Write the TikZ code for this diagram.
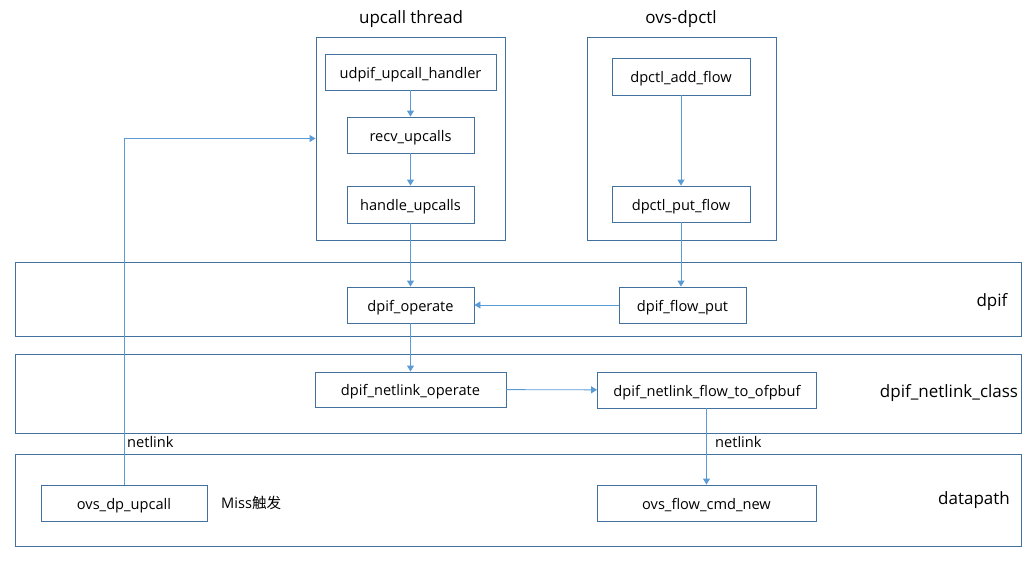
\documentclass[tikz,border=0pt]{standalone}
\usepackage{fontspec}
\setmainfont{Open Sans}
\newfontfamily\cjk{Noto Sans CJK SC}
\usetikzlibrary{arrows.meta,positioning}
\definecolor{boxblue}{HTML}{41719C}
\definecolor{lineblue}{HTML}{5B9BD5}

\begin{document}
\begin{tikzpicture}[x=1pt,y=-1pt]

\tikzset{funcbox/.style={draw=boxblue,line width=0.9pt,minimum width=127pt,minimum height=36pt,inner sep=0pt,text height=12.5pt,text depth=0pt,font=\fontsize{14.6}{16}\selectfont},
groupbox/.style={draw=boxblue,line width=0.9pt,minimum width=189pt,minimum height=203pt,inner sep=0pt},
layerbox/.style={draw=boxblue,line width=0.9pt,minimum width=1006pt,inner sep=0pt},
title/.style={font=\fontsize{17}{19}\selectfont},
layerlabel/.style={font=\fontsize{17}{19}\selectfont},
note/.style={font=\fontsize{14.6}{16}\selectfont,anchor=west,inner sep=1pt},
call/.style={draw=lineblue,line width=0.9pt,-{Triangle[width=7pt,length=6pt]}}}

\useasboundingbox (0,0) rectangle (1036,560);

% Thread and tool groups
\node[groupbox] (thread) at (410.5,138.5) {};
\node[title] (threadtitle) at (411,19) {upcall thread};
\node[groupbox] (dpctl) at (681.5,138.5) {};
\node[title] (dpctltitle) at (681,19) {ovs-dpctl};

% Layers
\node[layerbox,minimum height=74pt] (layerdpif) at (518,299) {};
\node[layerbox,minimum height=79pt] (layernl) at (518,393.5) {};
\node[layerbox,minimum height=92pt] (layerdp) at (518,500) {};
\node[layerlabel] (labeldpif) at (992,302) {dpif};
\node[layerlabel] (labelnl) at (949,393) {dpif\_netlink\_class};
\node[layerlabel] (labeldp) at (974,500) {datapath};

% upcall thread nodes
\node[funcbox,minimum width=171pt] (handler) at (410.5,72) {udpif\_upcall\_handler};
\node[funcbox] (recv) at (410.5,135) {recv\_upcalls};
\node[funcbox,minimum height=37pt] (handle) at (410.5,204.5) {handle\_upcalls};

% ovs-dpctl nodes
\node[funcbox,minimum width=138pt,minimum height=37pt] (addflow) at (681,76.5) {dpctl\_add\_flow};
\node[funcbox,minimum width=138pt] (putflow) at (681,204) {dpctl\_put\_flow};

% dpif nodes
\node[funcbox] (operate) at (410.5,305) {dpif\_operate};
\node[funcbox] (flowput) at (682.5,305) {dpif\_flow\_put};

% dpif_netlink_class nodes
\node[funcbox,minimum width=191pt,minimum height=35pt] (nloperate) at (410.5,389.5) {dpif\_netlink\_operate};
\node[funcbox,minimum width=219pt] (nlofpbuf) at (707,390) {dpif\_netlink\_flow\_to\_ofpbuf};

% datapath nodes
\node[funcbox,minimum width=166pt] (dpupcall) at (124,503) {ovs\_dp\_upcall};
\node[note] (miss) at (220,503) {Miss{\cjk 触发}};
\node[funcbox,minimum width=219pt] (cmdnew) at (706.5,503) {ovs\_flow\_cmd\_new};
\node[note] (netlinkup) at (126,442) {netlink};
\node[note] (netlinkdown) at (714,442) {netlink};

% Edges
\draw[call] (handler) -- (recv);
\draw[call] (recv) -- (handle);
\draw[call] (handle) -- (operate);
\draw[call] (addflow) -- (putflow);
\draw[call] (putflow.south) -- (putflow.south |- flowput.north);
\draw[call] (flowput) -- (operate);
\draw[call] (operate) -- (nloperate);
\draw[call] (nloperate) -- (nlofpbuf);
\draw[call] (nlofpbuf.south -| cmdnew.north) -- (cmdnew.north);
\draw[call] (dpupcall.north) |- (thread.west);

\end{tikzpicture}
\end{document}
